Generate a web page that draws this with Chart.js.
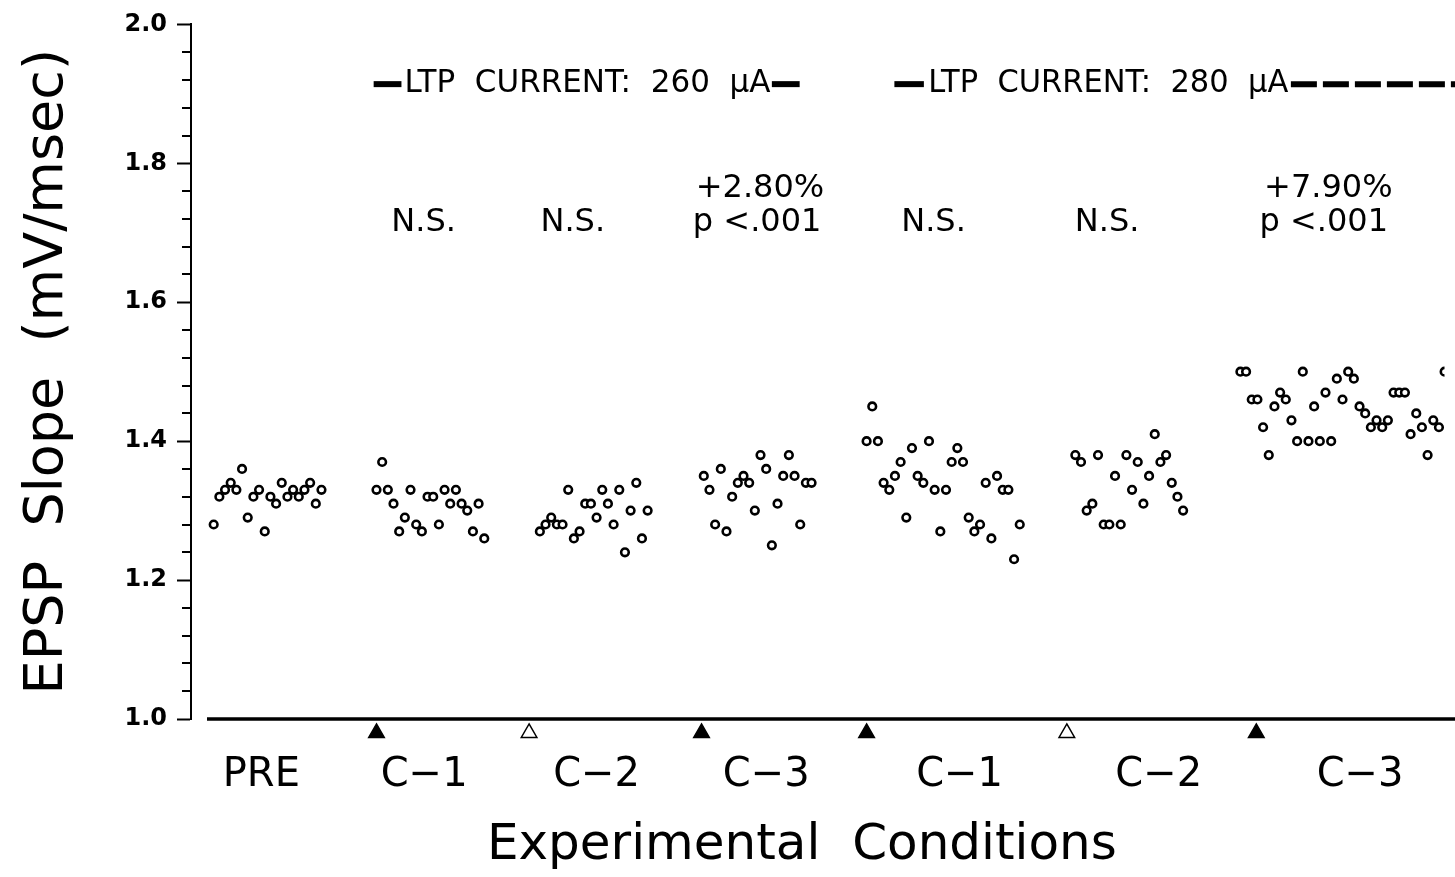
<!DOCTYPE html>
<html>
<head>
<meta charset="utf-8">
<script src="https://cdn.jsdelivr.net/npm/chart.js@4.4.1/dist/chart.umd.min.js"></script>
<style>
  html, body { margin: 0; padding: 0; background: #fff; overflow: hidden; }
  canvas { display: block; }
</style>
</head>
<body>
<canvas id="epspChart" width="1455" height="877" style="width:1455px;height:877px"></canvas>
<script>
// categories along the x axis (trial units)
const conditionLabels = ["PRE", "C−1", "C−2", "C−3", "C−1", "C−2", "C−3"];
const conditionCenters = [12.4, 41.1, 71.5, 101.4, 135.5, 170.6, 206.1];
const groupStarts = [4, 32.7, 61.5, 90.4, 119.1, 155.9, 185];

// EPSP slope (mV/msec), one value per trial
const pre = [1.28, 1.32, 1.33, 1.34, 1.33, 1.36, 1.29, 1.32, 1.33, 1.27, 1.32, 1.31, 1.34, 1.32, 1.33, 1.32, 1.33, 1.34, 1.31, 1.33];
const c1a = [1.33, 1.37, 1.33, 1.31, 1.27, 1.29, 1.33, 1.28, 1.27, 1.32, 1.32, 1.28, 1.33, 1.31, 1.33, 1.31, 1.30, 1.27, 1.31, 1.26];
const c2a = [1.27, 1.28, 1.29, 1.28, 1.28, 1.33, 1.26, 1.27, 1.31, 1.31, 1.29, 1.33, 1.31, 1.28, 1.33, 1.24, 1.30, 1.34, 1.26, 1.30];
const c3a = [1.35, 1.33, 1.28, 1.36, 1.27, 1.32, 1.34, 1.35, 1.34, 1.30, 1.38, 1.36, 1.25, 1.31, 1.35, 1.38, 1.35, 1.28, 1.34, 1.34];
const c1b = [1.40, 1.45, 1.40, 1.34, 1.33, 1.35, 1.37, 1.29, 1.39, 1.35, 1.34, 1.40, 1.33, 1.27, 1.33, 1.37, 1.39, 1.37, 1.29, 1.27, 1.28, 1.34, 1.26, 1.35, 1.33, 1.33, 1.23, 1.28];
const c2b = [1.38, 1.37, 1.30, 1.31, 1.38, 1.28, 1.28, 1.35, 1.28, 1.38, 1.33, 1.37, 1.31, 1.35, 1.41, 1.37, 1.38, 1.34, 1.32, 1.30];
const c3b = [1.50, 1.50, 1.46, 1.46, 1.42, 1.38, 1.45, 1.47, 1.46, 1.43, 1.40, 1.50, 1.40, 1.45, 1.40, 1.47, 1.40, 1.49, 1.46, 1.50, 1.49, 1.45, 1.44, 1.42, 1.43, 1.42, 1.43, 1.47, 1.47, 1.47, 1.41, 1.44, 1.42, 1.38, 1.43, 1.42, 1.50];
const groups = [pre, c1a, c2a, c3a, c1b, c2b, c3b];

// stimulation markers under the axis
const stimTrials = [32.7, 59.6, 90.0, 119.1, 154.4, 187.8];
const stimFilled = [true, false, true, true, false, true];
const stimLevel = 0.980;

const yMin = 1.0, yMax = 2.0, yStep = 0.2, yMinorStep = 0.04;

const FONT = "'DejaVu Sans', 'Liberation Sans', sans-serif";

// extra marks: minor ticks, baseline, markers below the axis, annotations
const decorations = {
    id: "decorations",
    afterDatasetsDraw(chart) {
        // the stimulus triangles sit below the chart area, so draw them unclipped
        const meta = chart.getDatasetMeta(chart.data.datasets.length - 1);
        chart.ctx.save();
        meta.data.forEach(el => el.draw(chart.ctx));
        chart.ctx.restore();
    },
    afterDraw(chart) {
        const {ctx, chartArea, scales: {x, y}} = chart;
        const px = v => x.getPixelForValue(v);
        const py = v => y.getPixelForValue(v);
        ctx.save();
        ctx.strokeStyle = "#000";
        ctx.fillStyle = "#000";

        // minor ticks on the y axis
        ctx.lineWidth = 2;
        ctx.beginPath();
        for (let v = yMin + yMinorStep; v < yMax - 1e-6; v += yMinorStep) {
            if (Math.abs(v / yStep - Math.round(v / yStep)) < 1e-6) continue;
            const yy = Math.round(py(v));
            ctx.moveTo(chartArea.left - 9, yy);
            ctx.lineTo(chartArea.left, yy);
        }
        ctx.stroke();

        // x baseline (starts a little right of the y axis)
        ctx.lineWidth = 3.5;
        ctx.beginPath();
        ctx.moveTo(chartArea.left + 16, py(yMin));
        ctx.lineTo(chart.width, py(yMin));
        ctx.stroke();

        // current bars
        const ltpY = py(1.914);
        ctx.lineWidth = 6;
        const bar = (a, b) => { ctx.beginPath(); ctx.moveTo(px(a), ltpY); ctx.lineTo(px(b), ltpY); ctx.stroke(); };
        bar(32.2, 37.1);
        bar(102.4, 107.3);
        bar(124.0, 129.2);
        ctx.setLineDash([26, 6]);
        ctx.beginPath(); ctx.moveTo(px(193.9), ltpY); ctx.lineTo(chart.width, ltpY); ctx.stroke();
        ctx.setLineDash([]);

        ctx.textAlign = "center";
        ctx.textBaseline = "middle";
        ctx.font = `32px ${FONT}`;
        ctx.fillText("LTP  CURRENT:  260  µA", px(69.9), ltpY, 366);
        ctx.fillText("LTP  CURRENT:  280  µA", px(161.7), ltpY, 360);

        // significance notes
        const nsY = py(1.714), pctY = py(1.764);
        [41.0, 67.3, 130.9, 161.5].forEach(t => ctx.fillText("N.S.", px(t), nsY));
        ctx.fillText("+2.80%", px(100.3), pctY);
        ctx.fillText("p <.001", px(99.8), nsY);
        ctx.fillText("+7.90%", px(200.5), pctY);
        ctx.fillText("p <.001", px(199.7), nsY);

        ctx.restore();
    }
};

const pointDatasets = groups.map((vals, g) => ({
    data: vals.map((v, i) => ({x: groupStarts[g] + i, y: v})),
    pointStyle: "circle",
    pointRadius: 3.8,
    pointBorderWidth: 2.6,
    pointBorderColor: "#000",
    pointBackgroundColor: "#fff",
    showLine: false
}));

const stimDataset = {
    data: stimTrials.map(t => ({x: t, y: stimLevel})),
    pointStyle: "triangle",
    pointRadius: 9,
    pointBorderWidth: 1.5,
    pointBorderColor: "#000",
    pointBackgroundColor: stimFilled.map(f => f ? "#000" : "#fff"),
    showLine: false,
    clip: false
};

Chart.defaults.color = "#000";
Chart.defaults.font.family = FONT;

new Chart(document.getElementById("epspChart").getContext("2d"), {
    type: "scatter",
    data: {datasets: [...pointDatasets, stimDataset]},
    plugins: [decorations],
    options: {
        responsive: false,
        animation: false,
        events: [],
        layout: {padding: {top: 20, left: 0, right: 0, bottom: 0}},
        plugins: {legend: {display: false}, tooltip: {enabled: false}},
        scales: {
            x: {
                type: "linear",
                min: 0,
                max: 220.98,
                grid: {display: false, drawTicks: false},
                border: {display: false},
                afterBuildTicks: scale => { scale.ticks = conditionCenters.map(v => ({value: v})); },
                afterFit: scale => { scale.height = 158; },
                ticks: {
                    autoSkip: false,
                    maxRotation: 0,
                    padding: 33,
                    font: {size: 40},
                    callback: (v, i) => conditionLabels[i]
                },
                title: {
                    display: true,
                    text: "Experimental  Conditions  ",
                    font: {size: 50},
                    padding: {top: 0, bottom: 1}
                }
            },
            y: {
                min: yMin,
                max: yMax,
                afterFit: scale => { scale.width = 191; },
                ticks: {
                    stepSize: yStep,
                    padding: 10,
                    font: {size: 24, weight: "bold"},
                    callback: v => v.toFixed(1)
                },
                grid: {drawOnChartArea: false, tickLength: 14, tickWidth: 2, tickColor: "#000"},
                border: {color: "#000", width: 2},
                title: {
                    display: true,
                    text: "EPSP  Slope  (mV/msec)",
                    font: {size: 54},
                    padding: {top: 16, bottom: 0}
                }
            }
        }
    }
});
</script>
</body>
</html>
